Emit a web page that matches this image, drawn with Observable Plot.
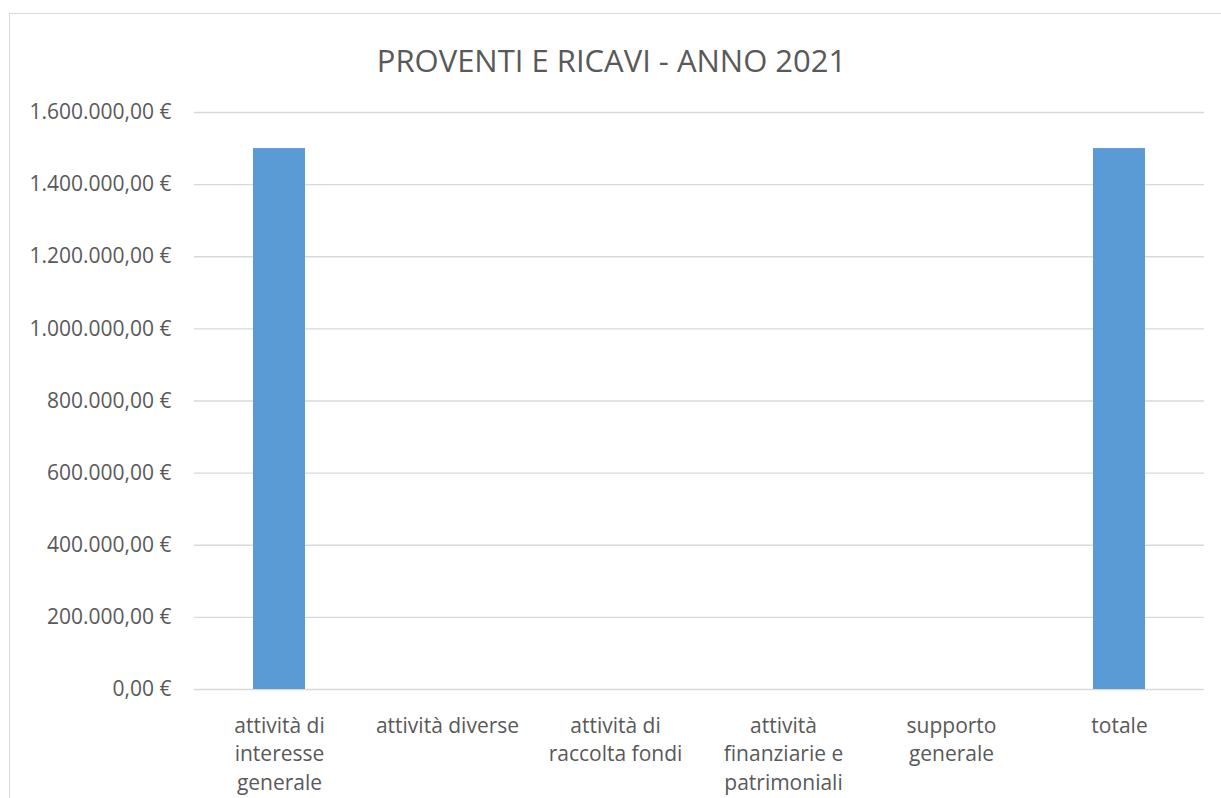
<!DOCTYPE html>
<html>
<head>
<meta charset="utf-8">
<script src="https://cdn.jsdelivr.net/npm/d3@7"></script>
<script src="https://cdn.jsdelivr.net/npm/@observablehq/plot@0.6"></script>
<style>
  html, body { margin: 0; padding: 0; background: #fff; }
  #wrap { position: relative; width: 1221px; height: 798px; overflow: hidden; font-family: "Open Sans", sans-serif; }
  #frame { position: absolute; left: 9px; top: 13px; width: 1300px; height: 900px; border-left: 1.5px solid #d9d9d9; border-top: 1.5px solid #d9d9d9; }
  #title { position: absolute; left: 0; width: 1223px; top: 0; height: 80px; text-align: center; font-size: 31px; color: #595959; line-height: 1; }
  #title span { position: absolute; left: 0; right: 0; top: 45px; }
  #chart { position: absolute; left: 0; top: 80px; }
</style>
</head>
<body>
<div id="wrap">
  <div id="frame"></div>
  <div id="title"><span>PROVENTI E RICAVI - ANNO 2021</span></div>
  <div id="chart"></div>
</div>
<script>
const categories = [
  "attività di interesse generale",
  "attività diverse",
  "attività di raccolta fondi",
  "attività finanziarie e patrimoniali",
  "supporto generale",
  "totale"
];
const values = [1500000, 0, 0, 0, 0, 1500000];
const tickLabels = [
  "attività di\ninteresse\ngenerale",
  "attività diverse",
  "attività di\nraccolta fondi",
  "attività\nfinanziarie e\npatrimoniali",
  "supporto\ngenerale",
  "totale"
];
const yTicks = [0, 200000, 400000, 600000, 800000, 1000000, 1200000, 1400000, 1600000];

const data = categories.map((c, i) => ({category: c, value: values[i]}));
const labelOf = new Map(categories.map((c, i) => [c, tickLabels[i]]));

const fmt = v => {
  const s = v.toFixed(2).split(".");
  const intPart = s[0].replace(/\B(?=(\d{3})+(?!\d))/g, ".");
  return intPart + "," + s[1] + " €";
};

const chart = Plot.plot({
  width: 1221,
  height: 718,
  marginTop: 32,
  marginBottom: 109,
  marginLeft: 194,
  marginRight: 17,
  style: {fontFamily: "Open Sans", fontSize: "21px", color: "#595959", background: "transparent", overflow: "visible"},
  x: {domain: categories, paddingInner: 0.69, paddingOuter: 0.345, align: 0.5},
  y: {domain: [0, 1600000]},
  marks: [
    Plot.gridY(yTicks, {stroke: "#d9d9d9", strokeOpacity: 1, strokeWidth: 1.3}),
    Plot.barY(data, {x: "category", y: "value", fill: "#5b9bd5"}),
    Plot.axisY(yTicks, {tickSize: 0, tickPadding: 23, tickFormat: fmt, fontSize: 21, fill: "#595959", label: null}),
    Plot.axisX({tickSize: 0, tickPadding: 23, tickFormat: d => labelOf.get(d), fontSize: 21, lineHeight: 1.36, fill: "#595959", label: null})
  ]
});
document.getElementById("chart").appendChild(chart);
</script>
</body>
</html>
